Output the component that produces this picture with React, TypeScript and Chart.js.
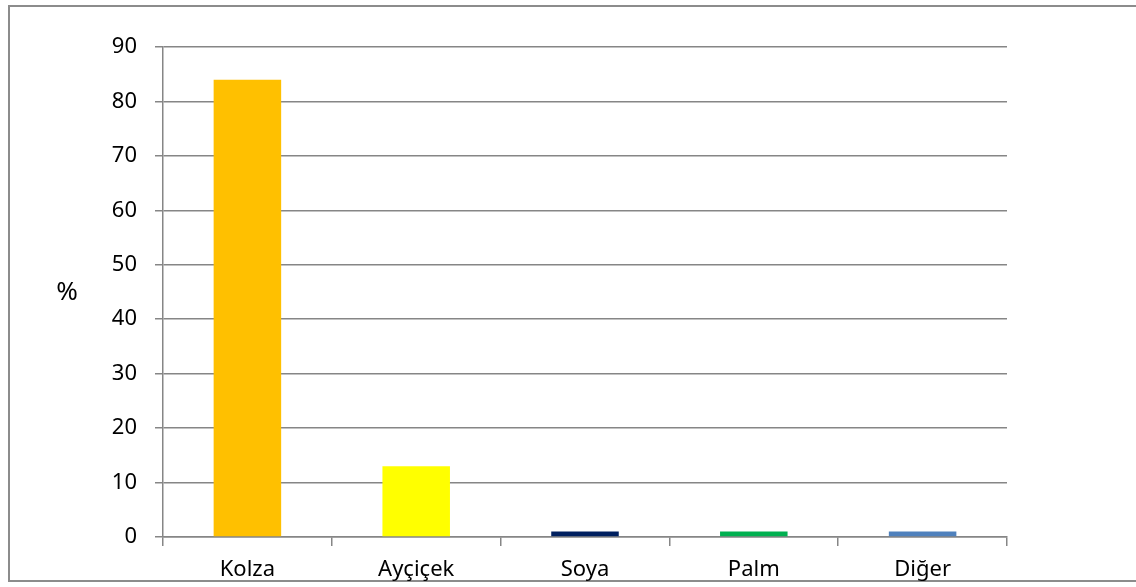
import React, { useEffect, useRef } from "react";
import { Chart, registerables } from "chart.js";

Chart.register(...registerables);

const categories: string[] = ["Kolza", "Ayçiçek", "Soya", "Palm", "Diğer"];
const values: number[] = [84, 13, 1, 1, 1];
const barColors: string[] = ["#FFC000", "#FFFF00", "#002060", "#00B050", "#4F81BD"];
const yTicks: number[] = [0, 10, 20, 30, 40, 50, 60, 70, 80, 90];
const yAxisTitle = "%";

const FONT = "'Noto Sans', 'DejaVu Sans', sans-serif";
const GRID = "#868686";

export default function App() {
  const canvasRef = useRef<HTMLCanvasElement | null>(null);

  useEffect(() => {
    const canvas = canvasRef.current;
    if (!canvas) return;

    const titlePlugin = {
      id: "flatYTitle",
      afterDraw(chart: any) {
        const { ctx, chartArea } = chart;
        ctx.save();
        ctx.font = `26px ${FONT}`;
        ctx.fillStyle = "#000";
        ctx.textAlign = "center";
        ctx.textBaseline = "middle";
        ctx.fillText(yAxisTitle, chartArea.left - 96, (chartArea.top + chartArea.bottom) / 2 + 1);
        ctx.restore();
      },
    };

    const chart = new Chart(canvas, {
      type: "bar",
      data: {
        labels: categories,
        datasets: [
          {
            data: values,
            backgroundColor: barColors,
            borderWidth: 0,
            barPercentage: 0.4,
            categoryPercentage: 1,
          },
        ],
      },
      options: {
        animation: false,
        responsive: false,
        maintainAspectRatio: false,
        layout: { padding: { left: 0, right: 129, top: 47, bottom: 0 } },
        plugins: {
          legend: { display: false },
          tooltip: { enabled: false },
        },
        scales: {
          x: {
            grid: {
              display: true,
              drawOnChartArea: false,
              drawTicks: true,
              tickLength: 9,
              color: GRID,
              lineWidth: 1.5,
              offset: true,
            },
            border: { display: true, color: GRID, width: 1.5 },
            ticks: {
              color: "#000",
              font: { family: FONT, size: 22 },
              padding: 11,
            },
            afterFit(scale: any) {
              scale.height = 50;
            },
          },
          y: {
            min: 0,
            max: 90,
            afterBuildTicks(scale: any) {
              scale.ticks = yTicks.map((v) => ({ value: v }));
            },
            grid: {
              color: GRID,
              lineWidth: 1.5,
              drawTicks: true,
              tickLength: 8,
            },
            border: { display: true, color: GRID, width: 1.5 },
            ticks: {
              color: "#000",
              font: { family: FONT, size: 22 },
              padding: 18,
            },
            afterFit(scale: any) {
              scale.width = 163;
            },
          },
        },
      },
      plugins: [titlePlugin],
    });

    return () => {
      chart.destroy();
    };
  }, []);

  return (
    <div style={{ position: "absolute", left: 0, top: 0, width: 1136, height: 587, overflow: "hidden", background: "#fff" }}>
      <div
        style={{
          position: "absolute",
          left: 8,
          top: 5,
          width: 1140,
          height: 577,
          border: "2px solid #8c8c8c",
          boxSizing: "border-box",
        }}
      />
      <canvas ref={canvasRef} width={1136} height={587} style={{ position: "absolute", left: 0, top: 0 }} />
    </div>
  );
}
